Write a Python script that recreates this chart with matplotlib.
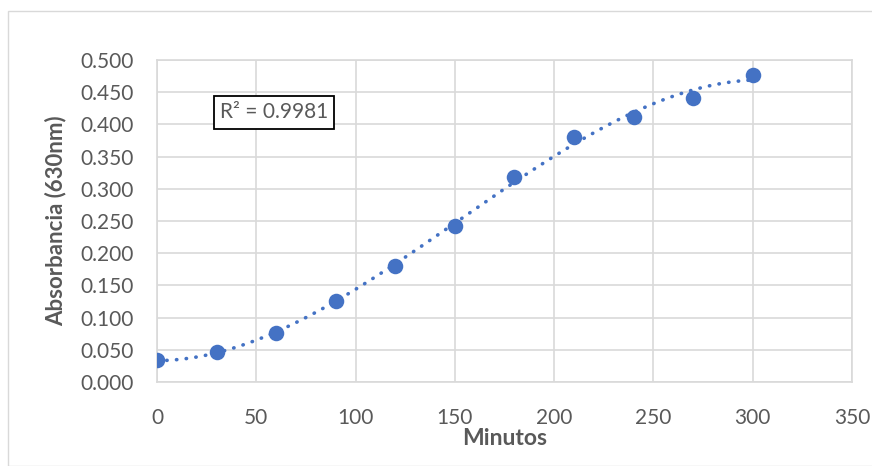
import numpy as np
import matplotlib
matplotlib.use("Agg")
import matplotlib.pyplot as plt
from matplotlib.patches import Rectangle

minutos = [0, 30, 60, 90, 120, 150, 180, 210, 240, 270, 300]
absorbancia = [0.034, 0.046, 0.076, 0.126, 0.180, 0.242, 0.319, 0.381, 0.411, 0.441, 0.477]
x_ticks = [0, 50, 100, 150, 200, 250, 300, 350]
y_ticks = [0.0, 0.05, 0.10, 0.15, 0.20, 0.25, 0.30, 0.35, 0.40, 0.45, 0.50]
r2_label = "R² = 0.9981"

blue = "#4472C4"
grid = "#D9D9D9"
txt = "#595959"
font = ["Lato", "DejaVu Sans"]

W, H = 872, 466
fig = plt.figure(figsize=(W / 100, H / 100), dpi=100)
# outer chart border
fig.patches.append(Rectangle((8 / W, 0), 1.2, (H - 11) / H, transform=fig.transFigure,
                             fill=False, edgecolor=grid, linewidth=1.0))

ax = fig.add_axes([157 / W, 1 - 382 / H, (852 - 157) / W, (382 - 60) / H])
ax.set_xlim(0, 350)
ax.set_ylim(0, 0.5)
ax.set_xticks(x_ticks)
ax.set_yticks(y_ticks)
ax.set_yticklabels([f"{v:.3f}" for v in y_ticks])
ax.grid(True, color=grid, linewidth=1.2)
ax.set_axisbelow(True)
for s in ax.spines.values():
    s.set_color(grid)
    s.set_linewidth(1.2)
ax.tick_params(length=0, labelsize=15, colors=txt)
ax.tick_params(axis="y", pad=17)
ax.tick_params(axis="x", pad=19)
for lab in ax.get_xticklabels() + ax.get_yticklabels():
    lab.set_family(font)

# polynomial trendline (order 3)
coef = np.polyfit(minutos, absorbancia, 3)
xs = np.linspace(min(minutos), max(minutos), 300)
ax.plot(xs, np.polyval(coef, xs), color=blue, linewidth=2.6,
        linestyle=(0, (0.1, 2.6)), dash_capstyle="round", zorder=2)

ax.scatter(minutos, absorbancia, s=125, color=blue, zorder=3, linewidths=0)

ax.text(274 / W, 1 - 112.5 / H, r2_label, transform=fig.transFigure, ha="center", va="center",
        fontsize=15, color=txt, family=font,
        bbox=dict(boxstyle="square,pad=0.3", facecolor="white", edgecolor="black", linewidth=1.3))

ax.set_xlabel("Minutos", fontsize=16.5, fontweight="bold", color=txt, family=font, labelpad=0)
ax.set_ylabel("Absorbancia (630nm)", fontsize=16, fontweight="bold", color=txt, family=font, labelpad=10)

fig.savefig("out.png", dpi=100)
